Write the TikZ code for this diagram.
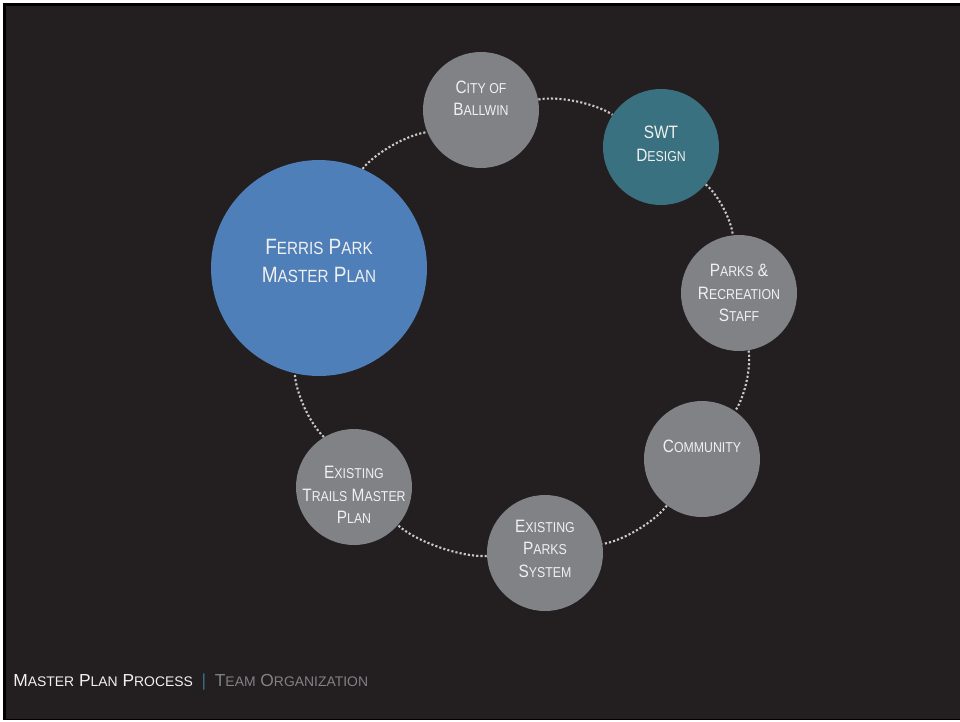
\documentclass[tikz,border=0pt]{standalone}
\usepackage{fontspec}
\usepackage{xcolor}
\usetikzlibrary{positioning}
\newfontfamily\circfont[FakeStretch=0.86]{Liberation Sans}
\newfontfamily\footfont{Liberation Sans}
\definecolor{slidebg}{HTML}{231F20}
\definecolor{discgray}{HTML}{808285}
\definecolor{discblue}{HTML}{4F7FB8}
\definecolor{discteal}{HTML}{3A7180}
\definecolor{ringdot}{HTML}{C9C9C9}
\definecolor{txtwhite}{HTML}{F0F0F0}
\makeatletter
\newcommand\lc[1]{{\@tempdima=\f@size pt\@tempdima=0.8\@tempdima
  \fontsize{\the\@tempdima}{\f@baselineskip}\selectfont #1}}
\makeatother

\begin{document}
\begin{tikzpicture}[
    x=0.02cm, y=-0.02cm,
    disc/.style={circle, fill=discgray, minimum size=2.32cm, inner sep=0pt},
    hub/.style={circle, fill=discblue, minimum size=4.32cm, inner sep=0pt},
    lbl/.style={text=txtwhite, align=center, font=\circfont\fontsize{10.2}{12.8}\selectfont},
    hublbl/.style={text=txtwhite, align=center, font=\circfont\fontsize{12.6}{16.4}\selectfont},
    ring/.style={draw=ringdot, line width=1.2pt, dash pattern=on 1.2pt off 1.2pt, looseness=0.7}
]
\useasboundingbox (0,0) rectangle (960,721);
%% slide background
\fill[white] (0,0) rectangle (960,721);
\fill[black] (3,3) rectangle (960,720);
\fill[slidebg] (6,6) rectangle (960,719);
%% the central plan
\node[hub] (ferris) at (319,268) {};
\node[hublbl] at ([yshift=1.4mm]ferris.center) {F\lc{ERRIS} P\lc{ARK}\\M\lc{ASTER} P\lc{LAN}};
%% team members round the ring
\node[disc] (ballwin) at (481,110) {};
\node[lbl] at ([yshift=2.4mm]ballwin.center) {C\lc{ITY OF}\\B\lc{ALLWIN}};
\node[disc, fill=discteal] (swt) at (661,147) {};
\node[lbl] at ([yshift=0.6mm]swt.center) {SWT\\D\lc{ESIGN}};
\node[disc] (staff) at (739,293) {};
\node[lbl] at (staff.center) {P\lc{ARKS} \&\\R\lc{ECREATION}\\S\lc{TAFF}};
\node[disc] (community) at (702,459) {};
\node[lbl] at ([yshift=2.6mm]community.center) {C\lc{OMMUNITY}};
\node[disc] (parks) at (545,553) {};
\node[lbl] at ([yshift=0.9mm]parks.center) {E\lc{XISTING}\\P\lc{ARKS}\\S\lc{YSTEM}};
\node[disc] (trails) at (354,487) {};
\node[lbl] at ([yshift=-1.6mm]trails.center) {E\lc{XISTING}\\T\lc{RAILS} M\lc{ASTER}\\P\lc{LAN}};
%% dotted ring
\draw[ring] (ferris) to[bend left=22] (ballwin);
\draw[ring] (ballwin) to[bend left=22] (swt);
\draw[ring] (swt) to[bend left=22] (staff);
\draw[ring] (staff) to[bend left=22] (community);
\draw[ring] (community) to[bend left=22] (parks);
\draw[ring] (parks) to[bend left=22] (trails);
\draw[ring] (trails) to[bend left=22] (ferris);
%% footer
\node[anchor=base west, inner sep=0pt, font=\footfont\fontsize{9.9}{11}\selectfont] (footer) at (13,686)
  {\textcolor{txtwhite}{M\lc{ASTER} P\lc{LAN} P\lc{ROCESS}}\hspace{0.5em}\textcolor{discteal}{|}\hspace{0.5em}\textcolor{discgray}{T\lc{EAM} O\lc{RGANIZATION}}};
\end{tikzpicture}
\end{document}
